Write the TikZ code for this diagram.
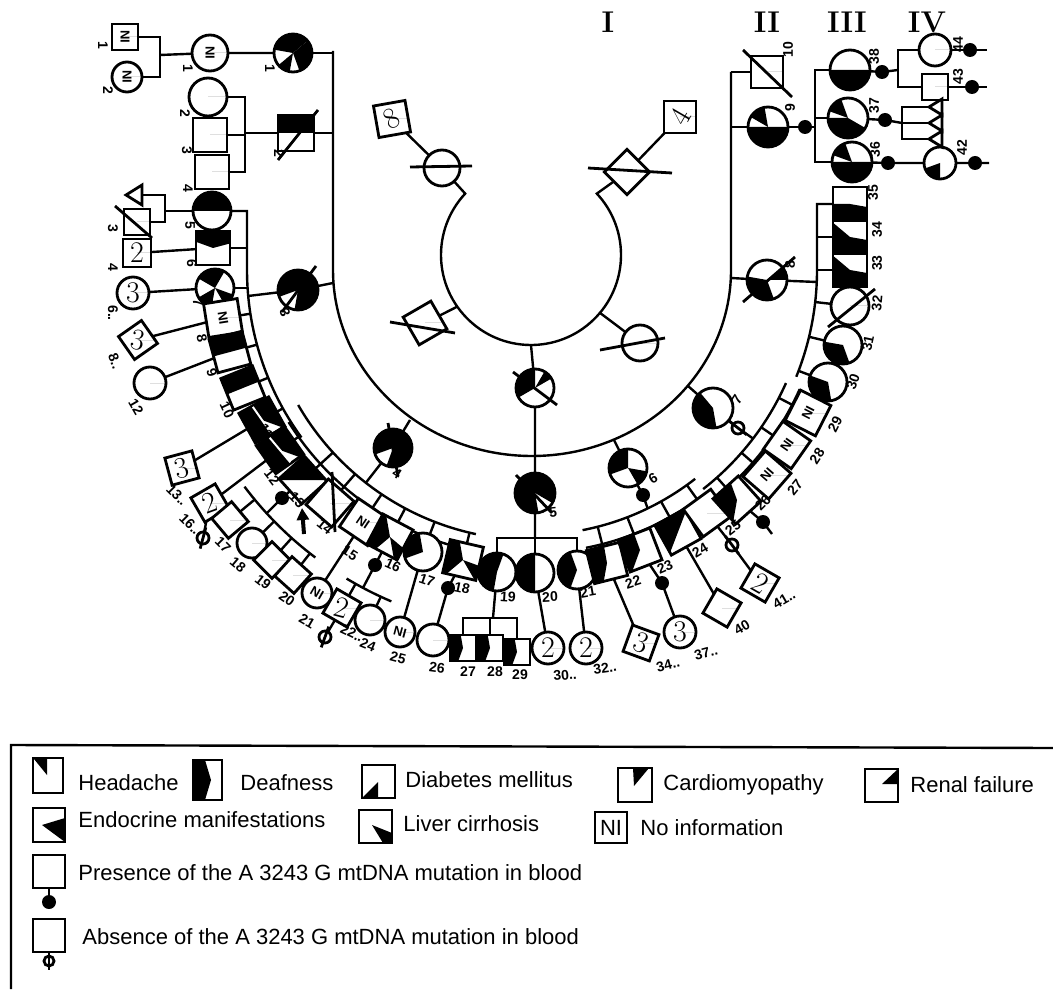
\documentclass[tikz,border=0pt]{standalone}
\usepackage{fontspec}
\setsansfont{Liberation Sans}
\usetikzlibrary{calc,arrows.meta}
\pgfdeclarelayer{bg}
\pgfsetlayers{bg,main}

\tikzset{
  sym/.style={line width=1.4pt},
  link/.style={line width=1.2pt},
  lab/.style={font=\sffamily\bfseries\fontsize{7}{7}\selectfont, inner sep=0pt},
  ni/.style={font=\sffamily\bfseries\fontsize{6.5}{6.5}\selectfont, inner sep=0pt},
  inum/.style={font=\fontsize{15}{15}\selectfont, inner sep=0pt},
  gen/.style={font=\bfseries\fontsize{15}{15}\selectfont, inner sep=0pt},
  leg/.style={font=\sffamily\fontsize{11}{11}\selectfont, anchor=west, inner sep=0pt},
}

% male: name, x, y, rotation, half side, black sectors (page angles)
\newcommand{\msq}[6]{%
  \begin{scope}[shift={(#2,#3)}, rotate=#4]
    \coordinate (#1) at (0,0);
    \fill[white] (-#5,-#5) rectangle (#5,#5);
    \begin{scope}
      \clip (-#5,-#5) rectangle (#5,#5);
      \foreach \a/\b in {#6} {\fill (0,0) -- ({\a-(#4)}:2*#5) arc[start angle={\a-(#4)}, end angle={\b-(#4)}, radius=2*#5] -- cycle;}
    \end{scope}
    \draw[sym] (-#5,-#5) rectangle (#5,#5);
  \end{scope}}
% female: name, x, y, rotation, radius, black sectors
\newcommand{\fci}[6]{%
  \begin{scope}[shift={(#2,#3)}, rotate=#4]
    \coordinate (#1) at (0,0);
    \fill[white] (0,0) circle (#5);
    \foreach \a/\b in {#6} {\fill (0,0) -- (\a:#5) arc[start angle=\a, end angle=\b, radius=#5] -- cycle;}
    \draw[sym] (0,0) circle (#5);
  \end{scope}}
% mutation present / absent
\newcommand{\mutdot}[3]{\coordinate (#1) at (#2,#3); \fill (#1) circle (7);}
\newcommand{\mutno}[4]{\coordinate (#1) at (#2,#3);
  \draw[sym,fill=white] (#1) circle (6);
  \draw[sym] ($(#1)+(#4:11)$) -- ($(#1)+(#4+180:11)$);}
% individual number
\newcommand{\plab}[5]{\node[lab, rotate=#4] (#1) at (#2,#3) {#5};}

\begin{document}
\begin{tikzpicture}[x=0.5pt,y=0.5pt,>=Stealth]
\useasboundingbox (0,0) rectangle (1053,-989);
\coordinate (C) at (532,-270);
\coordinate (Cr) at (531,-255);

% Generation labels
\node[gen] (gI) at (608,-22) {I};
\node[gen] (gII) at (767,-22) {II};
\node[gen] (gIII) at (847,-22) {III};
\node[gen] (gIV) at (927,-22) {IV};

% Generation I
\fci{Ia}{442}{-168}{0}{18}{0/0}
\msq{Ia8}{392}{-119}{10}{16}{0/0}
\node[inum, rotate=30] (nIa8) at (Ia8) {8};
\msq{Ib}{627}{-172}{45}{16}{0/0}
\msq{Ib4}{680}{-117}{0}{16}{0/0}
\node[inum, rotate=60] (nIb4) at (Ib4) {4};
\msq{Ic}{425}{-323}{30}{16}{0/0}
\fci{Id}{640}{-343}{0}{18}{0/0}
\fci{Ie}{535}{-388}{0}{19}{90/210,30/60}
\draw[sym] (410,-167) -- (472,-166);
\draw[sym] (588,-168) -- (672,-173);
\draw[sym] (390,-322) -- (455,-333);
\draw[sym] (600,-350) -- (665,-338);
\draw[sym] (513,-372) -- (557,-405);

% Generation II
\fci{II1}{293}{-53}{0}{19}{40/170,220/260,290/400}
\msq{II2}{296}{-133}{0}{18}{0/180}
\fci{II3}{298}{-290}{0}{20}{260/560}
\fci{II4}{393}{-448}{0}{19}{250/560}
\fci{II5}{535}{-493}{0}{20}{330/640}
\fci{II6}{628}{-468}{0}{19}{90/200,300/350}
\fci{II7}{713}{-408}{0}{20}{130/280}
\fci{II8}{767}{-280}{0}{20}{170/290,0/40}
\fci{II9}{768}{-127}{0}{20}{180/360,100/150}
\msq{II10}{767}{-72}{0}{16}{0/0}
\draw[sym] (278,-160) -- (318,-110);
\draw[sym] (282,-312) -- (316,-266);
\draw[sym] (388,-423) -- (398,-476);
\draw[sym] (516,-475) -- (552,-513);
\draw[sym] (743,-302) -- (795,-257);
\draw[sym] (743,-50) -- (792,-97);

% Generation III, left column
\fci{III1}{210}{-53}{0}{18}{0/0}
\fci{III2}{208}{-97}{0}{19}{0/0}
\msq{III3}{210}{-135}{0}{17}{0/0}
\msq{III4}{212}{-172}{0}{17}{0/0}
\fci{III5}{212}{-211}{0}{19}{0/180}
\msq{III6}{213}{-248}{0}{17}{15/160}
\fci{III7}{215}{-288}{0}{19}{60/150,210/260,300/340}
\msq{III8}{223}{-318}{9}{17}{0/0}
\msq{III9}{230}{-352}{15}{17}{15/195}
\msq{III10}{243}{-388}{22}{17}{22/202}
\msq{III11}{262}{-420}{29}{17}{-20/300}
\msq{III12}{280}{-450}{35}{17}{-20/310}
\draw[white, line width=1pt] ($(III11)+(125:16)$) -- ($(III11)+(305:16)$);
\draw[white, line width=1pt] ($(III12)+(130:16)$) -- ($(III12)+(310:16)$);

% Generation III, lower arc
\msq{III13}{303}{-480}{42}{17}{0/180}
\msq{III14}{330}{-503}{49}{17}{0/0}
\draw[sym] (332,-472) -- (335,-532);
\msq{III15}{363}{-522}{56}{17}{0/0}
\msq{III16}{390}{-537}{62}{17}{100/220,280/320}
\fci{III17}{423}{-552}{0}{19}{100/200}
\msq{III18}{463}{-560}{77}{17}{100/220,300/340}
\fci{III19}{497}{-572}{0}{19}{70/260}
\fci{III20}{535}{-573}{0}{19}{90/270}
\fci{III21}{577}{-570}{0}{19}{110/250}
\msq{III22}{607}{-563}{14}{17}{100/260}
\msq{III23}{640}{-550}{21}{17}{110/250}
\msq{III24}{678}{-532}{29}{17}{69/249}
\msq{III25}{707}{-513}{36}{17}{0/0}
\msq{III26}{737}{-500}{42}{17}{110/260}
\msq{III27}{767}{-475}{49}{17}{0/0}
\msq{III28}{787}{-445}{55}{17}{0/0}
\msq{III29}{808}{-413}{63}{17}{0/0}

% Generation III, right column
\fci{III30}{828}{-382}{0}{19}{160/280}
\fci{III31}{843}{-345}{0}{19}{170/290}
\fci{III32}{850}{-306}{0}{19}{0/0}
\draw[sym] (828,-327) -- (875,-289);
\msq{III33}{850}{-270}{0}{17}{140/350}
\msq{III34}{850}{-237}{0}{17}{140/350}
\msq{III35}{850}{-204}{0}{17}{180/350}
\fci{III36}{852}{-162}{0}{20}{180/360,110/160}
\fci{III37}{848}{-118}{0}{20}{110/160,180/330}
\fci{III38}{850}{-70}{0}{20}{180/360}

% Generation IV
\fci{IV44}{935}{-50}{0}{16}{0/0}
\msq{IV43}{935}{-87}{0}{13}{0/0}
\fci{IV42}{940}{-163}{0}{16}{200/270}
\coordinate (t1) at (929,-107);
\coordinate (t2) at (929,-123);
\coordinate (t3) at (929,-139);
\foreach \t in {t1,t2,t3}
  \draw[sym,fill=white] (\t) -- ++(13,8) -- ++(0,-16) -- cycle;
\msq{IV1}{125}{-37}{0}{13}{0/0}
\fci{IV2}{127}{-77}{0}{15}{0/0}
\coordinate (IVt) at (140,-195);
\draw[sym,fill=white] (126,-195) -- (142,-185) -- (142,-205) -- cycle;
\msq{IV3}{137}{-222}{0}{13}{0/0}
\draw[sym] (115,-206) -- (152,-238);
\msq{IV4}{137}{-253}{0}{14}{0/0}
\fci{IV6}{133}{-293}{0}{16}{0/0}
\msq{IV8}{138}{-340}{35}{14}{0/0}
\fci{IV12}{150}{-383}{0}{16}{0/0}
\msq{IV13}{182}{-468}{15}{14}{0/0}
\msq{IV16}{210}{-503}{30}{14}{0/0}
\msq{IV17}{230}{-520}{40}{13}{0/0}
\fci{IV18}{252}{-543}{0}{15}{0/0}
\msq{IV19}{272}{-560}{45}{13}{0/0}
\msq{IV20}{293}{-575}{48}{13}{0/0}
\fci{IV21}{317}{-593}{0}{15}{0/0}
\msq{IV22}{342}{-608}{60}{14}{0/0}
\fci{IV24}{370}{-620}{0}{15}{0/0}
\fci{IV25}{400}{-632}{0}{15}{0/0}
\fci{IV26}{433}{-640}{0}{16}{0/0}
\msq{IV27}{463}{-648}{0}{13}{100/250}
\msq{IV28}{490}{-648}{0}{13}{100/250}
\msq{IV29}{517}{-652}{0}{13}{100/250}
\fci{IV30}{548}{-648}{0}{16}{0/0}
\fci{IV32}{586}{-648}{0}{16}{0/0}
\msq{IV34}{641}{-643}{-20}{14}{0/0}
\fci{IV37}{680}{-632}{0}{16}{0/0}
\msq{IV40}{722}{-608}{-30}{14}{0/0}
\msq{IV41}{760}{-583}{-30}{14}{0/0}

% texts inside symbols
\node[ni, rotate=-90] (nIII1) at (III1) {NI};
\node[ni, rotate=-90] (nIV1) at (IV1) {NI};
\node[ni, rotate=-90] (nIV2) at (IV2) {NI};
\node[ni, rotate=-81] (nIII8) at (III8) {NI};
\node[ni, rotate=-34] (nIII15) at (III15) {NI};
\node[ni, rotate=49] (nIII27) at (III27) {NI};
\node[ni, rotate=55] (nIII28) at (III28) {NI};
\node[ni, rotate=63] (nIII29) at (III29) {NI};
\node[ni, rotate=-30] (nIV21) at (IV21) {NI};
\node[ni, rotate=-15] (nIV25) at (IV25) {NI};
\node[inum] (nIV4) at (IV4) {2};
\node[inum] (nIV6) at (IV6) {3};
\node[inum, rotate=-10] (nIV8) at (IV8) {3};
\node[inum, rotate=15] (nIV13) at (IV13) {3};
\node[inum, rotate=20] (nIV16) at (IV16) {2};
\node[inum, rotate=-15] (nIV22) at (IV22) {2};
\node[inum] (nIV30) at (IV30) {2};
\node[inum] (nIV32) at (IV32) {2};
\node[inum, rotate=-20] (nIV34) at (IV34) {3};
\node[inum] (nIV37) at (IV37) {3};
\node[inum, rotate=-30] (nIV41) at (IV41) {2};

% mutation status
\mutdot{dII6}{643}{-495}
\mutno{aII7}{738}{-428}{-38}
\mutdot{dII9}{805}{-127}
\mutdot{dIII13}{282}{-498}
\mutdot{dIII16}{375}{-565}
\mutdot{dIII18}{448}{-588}
\mutdot{dIII23}{662}{-583}
\mutno{aIII25}{732}{-545}{-53}
\mutdot{dIII26}{763}{-522}
\coordinate (eIII26) at (772,-534);
\mutdot{dIII38}{882}{-72}
\mutdot{dIII37}{885}{-120}
\mutdot{dIII36}{888}{-163}
\mutdot{dIV44}{970}{-50}
\mutdot{dIV43}{972}{-87}
\mutdot{dIV42}{975}{-163}
\mutno{aIV16}{203}{-538}{-105}
\mutno{aIV22}{325}{-637}{-110}

% proband
\coordinate (arrA) at (304,-534);
\coordinate (arrB) at (302,-508);
\draw[line width=2pt, -{Triangle[length=6pt,width=6pt]}] (arrA) -- (arrB);

% individual numbers
\plab{lIV1}{103}{-45}{-90}{1}
\plab{lIV2}{108}{-90}{-90}{2}
\plab{lIII1}{188}{-68}{-90}{1}
\plab{lII1}{270}{-68}{-90}{1}
\plab{lIII2}{185}{-113}{-90}{2}
\plab{lIII3}{187}{-150}{-90}{3}
\plab{lIII4}{188}{-188}{-90}{4}
\plab{lII2}{279}{-153}{-90}{2}
\plab{lIII5}{190}{-225}{-90}{5}
\plab{lIII6}{192}{-263}{-90}{6}
\plab{lIII7}{198}{-302}{-80}{7}
\plab{lII3}{285}{-313}{-70}{3}
\plab{lIV3}{113}{-228}{-90}{3}
\plab{lIV4}{113}{-267}{-90}{4}
\plab{lIV6}{113}{-313}{-90}{6..}
\plab{lIV8}{115}{-361}{-70}{8..}
\plab{lIV12}{136}{-407}{-60}{12}
\plab{lIII8}{202}{-338}{-78}{8}
\plab{lIII9}{212}{-373}{-72}{9}
\plab{lIII10}{227}{-410}{-65}{10}
\plab{lIII11}{266}{-431}{-59}{11}
\plab{lIII12}{272}{-477}{-52}{12}
\plab{lIV13}{177}{-495}{-45}{13..}
\plab{lIII13}{297}{-500}{-46}{13}
\plab{lIV16}{190}{-524}{-45}{16..}
\plab{lIV17}{223}{-545}{-45}{17}
\plab{lIV18}{238}{-565}{-40}{18}
\plab{lIV19}{263}{-582}{-38}{19}
\plab{lIV20}{287}{-599}{-35}{20}
\plab{lIII14}{325}{-527}{-39}{14}
\plab{lIV21}{307}{-621}{-30}{21}
\plab{lIV22}{352}{-633}{-25}{22..}
\plab{lIV24}{368}{-645}{-22}{24}
\plab{lIV25}{398}{-658}{-15}{25}
\plab{lIII15}{350}{-553}{-32}{15}
\plab{lIII16}{393}{-565}{-25}{16}
\plab{lII4}{397}{-474}{-33}{4}
\plab{lIII17}{427}{-580}{-19}{17}
\plab{lIII18}{462}{-588}{-12}{18}
\plab{lIV26}{437}{-668}{-8}{26}
\plab{lIV27}{468}{-672}{0}{27}
\plab{lIV28}{495}{-672}{0}{28}
\plab{lIV29}{520}{-675}{0}{29}
\plab{lIII19}{508}{-597}{-4}{19}
\plab{lIII20}{550}{-597}{3}{20}
\plab{lIII21}{588}{-592}{10}{21}
\plab{lII5}{553}{-512}{5}{5}
\plab{lIV30}{565}{-675}{5}{30..}
\plab{lIV32}{605}{-668}{8}{32..}
\plab{lII6}{653}{-478}{30}{6}
\plab{lIII22}{633}{-582}{18}{22}
\plab{lIII23}{665}{-567}{24}{23}
\plab{lIII24}{700}{-550}{31}{24}
\plab{lIII25}{733}{-528}{38}{25}
\plab{lIV34}{668}{-665}{15}{34..}
\plab{lIV37}{706}{-653}{15}{37..}
\plab{lIV40}{742}{-627}{30}{40}
\plab{lIV41}{784}{-599}{30}{41..}
\plab{lII7}{737}{-400}{57}{7}
\plab{lIII26}{763}{-503}{45}{26}
\plab{lIII27}{795}{-487}{51}{27}
\plab{lIII28}{817}{-456}{57}{28}
\plab{lIII29}{835}{-424}{63}{29}
\plab{lIII30}{853}{-382}{71}{30}
\plab{lIII31}{868}{-343}{78}{31}
\plab{lIII32}{877}{-303}{85}{32}
\plab{lIII33}{877}{-263}{90}{33}
\plab{lIII34}{877}{-230}{90}{34}
\plab{lIII35}{873}{-193}{90}{35}
\plab{lII8}{790}{-265}{90}{8}
\plab{lII9}{790}{-108}{90}{9}
\plab{lII10}{788}{-50}{90}{10}
\plab{lIII36}{875}{-150}{90}{36}
\plab{lIII37}{874}{-106}{90}{37}
\plab{lIII38}{874}{-57}{90}{38}
\plab{lIV44}{958}{-45}{90}{44}
\plab{lIV43}{958}{-77}{90}{43}
\plab{lIV42}{962}{-148}{90}{42}

% connecting lines
\begin{pgfonlayer}{bg}
\fill[white] (0,0) rectangle (1053,-989);
% generation I sibship
\draw[link] (Ia) -- ($(Cr)+(137:90)$) arc[start angle=137, end angle=403, radius=90] -- (Ib);
\draw[link] (Ia) -- (Ia8);
\draw[link] (Ib) -- (Ib4);
\draw[link] (Ic) -- ($(Cr)+(215:90)$);
\draw[link] (Id) -- ($(Cr)+(320:90)$);
\coordinate (sII5) at (535,-538);
\draw[link] ($(Cr)+(270:90)$) -- (Ie) -- (II5) -- (sII5);
% generation II sibship
\draw[link] (333,-51) -- (333,-270) arc[start angle=180, end angle=360, x radius=199, y radius=186] -- (731,-72);
\draw[link] (II1) -- (333,-53);
\draw[link] (II2) -- (333,-133);
\draw[link] (II3) -- (333,-283);
\draw[link] (II4) -- (410,-420);
\draw[link] (II6) -- (614,-440);
\draw[link] (II7) -- (688,-386);
\draw[link] (II8) -- (731,-278);
\draw[link] (II9) -- (731,-127);
\draw[link] (II10) -- (731,-72);
% children of II-1
\draw[link] (II1) -- (III1) -- (160,-55);
\draw[link] (IV1) -- (160,-37) -- (160,-77) -- (IV2);
% children of II-2
\draw[link] (II2) -- (245,-133);
\draw[link] (III2) -- (245,-97) -- (245,-172) -- (III4);
\draw[link] (III3) -- (245,-135);
% children of II-3
\draw[link] (II3) -- (248,-296);
\draw[link] (III5) -- (247,-211) -- (247,-270) arc[start angle=180, end angle=216, radius=285];
\draw[link] (III6) -- (247,-248);
\draw[link] (III7) -- (247,-288);
\foreach \k in {III8,III9,III10,III11,III12}
  \draw[link] (\k) -- ($(C)!142.5pt!(\k)$);
% children of II-4
\draw[link] (II4) -- ($(C)!135pt!(II4)$);
\draw[link] ($(C)+(210:270)$) arc[start angle=210, end angle=258, radius=270];
\draw[link] ($(C)+(212:287)$) arc[start angle=212, end angle=258, radius=287];
\foreach \k in {III13,III14,III15,III16,III17,III18}
  \draw[link] (\k) -- ($(C)!135pt!(\k)$);
% children of II-5
\draw[link] (III19) -- (497,-538) -- (577,-538) -- (III21);
\draw[link] (sII5) -- (III20);
% children of II-6
\draw[link] (II6) -- (dII6) -- ($(C)!132.5pt!(II6)$);
\draw[link] ($(C)+(281:265)$) arc[start angle=281, end angle=308, radius=265];
\draw[link] ($(C)+(281:283)$) arc[start angle=281, end angle=308, radius=283];
\foreach \k in {III22,III23,III24,III25}
  \draw[link] (\k) -- ($(C)!132.5pt!(\k)$);
% children of II-7
\draw[link] (II7) -- (aII7) -- ($(C)!139pt!(II7)$);
\draw[link] ($(C)+(308:278)$) arc[start angle=308, end angle=336, radius=278];
\draw[link] ($(C)+(308:293)$) arc[start angle=308, end angle=336, radius=293];
\foreach \k in {III26,III27,III28,III29}
  \draw[link] (\k) -- ($(C)!139pt!(\k)$);
% children of II-8
\draw[link] (II8) -- (817,-282);
\draw[link] (III35) -- (817,-204) -- (817,-270) arc[start angle=0, end angle=-22, radius=285];
\draw[link] (III34) -- (817,-237);
\draw[link] (III33) -- (817,-270);
\foreach \k in {III30,III31,III32}
  \draw[link] (\k) -- ($(C)!142.5pt!(\k)$);
% children of II-9
\draw[link] (II9) -- (dII9) -- (815,-127);
\draw[link] (III38) -- (815,-70) -- (815,-162) -- (III36);
\draw[link] (III37) -- (815,-118);
% generation IV, right
\draw[link] (III38) -- (dIII38) -- (898,-70);
\draw[link] (IV44) -- (898,-50) -- (898,-87) -- (IV43);
\draw[link] (IV44) -- (dIV44) -- (987,-50);
\draw[link] (IV43) -- (dIV43) -- (987,-87);
\draw[link] (III37) -- (dIII37) -- (902,-123);
\draw[link] (t1) -- (902,-107) -- (902,-139) -- (t3);
\draw[link] (t2) -- (902,-123);
\draw[link] (III36) -- (dIII36) -- (IV42) -- (dIV42) -- (989,-163);
% generation IV, left and bottom
\draw[link] (III5) -- (165,-211);
\draw[link] (IVt) -- (165,-195) -- (165,-222) -- (IV3);
\draw[link] (III6) -- (IV4);
\draw[link] (III7) -- (IV6);
\draw[link] (III8) -- (IV8);
\draw[link] (III9) -- (IV12);
\draw[link] (III11) -- (IV13);
\draw[link] (III12) -- (IV16) -- (aIV16);
\draw[link] (III13) -- (dIII13) -- ($(C)!180pt!(III13)$);
\draw[link] ($(C)+(217:360)$) arc[start angle=217, end angle=233, radius=360];
\foreach \k in {IV17,IV18,IV19,IV20}
  \draw[link] (\k) -- ($(C)!180pt!(\k)$);
\draw[link] (III15) -- (IV21);
\draw[link] (III16) -- (dIII16) -- ($(C)!180pt!(III16)$);
\draw[link] ($(C)+(239:360)$) arc[start angle=239, end angle=247, radius=360];
\draw[link] ($(C)!180pt!(IV22)$) -- (IV22) -- (aIV22);
\draw[link] ($(C)!180pt!(IV24)$) -- (IV24);
\draw[link] (III17) -- (IV25);
\draw[link] (III18) -- (dIII18) -- (IV26);
\draw[link] (III19) -- (493,-618);
\draw[link] (IV27) -- (463,-618) -- (517,-618) -- (IV29);
\draw[link] (IV28) -- (490,-618);
\draw[link] (III20) -- (IV30);
\draw[link] (III21) -- (IV32);
\draw[link] (III22) -- (IV34);
\draw[link] (III23) -- (dIII23) -- (IV37);
\draw[link] (III24) -- (IV40);
\draw[link] (III25) -- (aIII25) -- (IV41);
\draw[link] (III26) -- (dIII26) -- (eIII26);
\end{pgfonlayer}

% Legend
\draw[link] (11,-989) -- (11,-745) -- (1053,-748);
\fill (34,-759) -- (47,-759) -- (47,-775) -- cycle;
\draw[sym] (33,-758) rectangle (63,-793);
\node[leg] (tHead) at (78,-783) {Headache};
\fill (193,-760) -- (205,-760) -- (211,-780) -- (205,-800) -- (193,-800) -- cycle;
\draw[sym] (193,-760) rectangle (222,-800);
\node[leg] (tDeaf) at (240,-783) {Deafness};
\fill (362,-798) -- (378,-782) -- (378,-798) -- cycle;
\draw[sym] (362,-765) rectangle (395,-798);
\node[leg] (tDiab) at (405,-780) {Diabetes mellitus};
\fill (633,-768) -- (649,-768) -- (634,-786) -- cycle;
\draw[sym] (618,-768) rectangle (652,-802);
\node[leg] (tCard) at (663,-785) {Cardiomyopathy};
\fill (882,-784) -- (898,-769) -- (898,-784) -- cycle;
\draw[sym] (865,-769) rectangle (898,-802);
\node[leg] (tRen) at (910,-785) {Renal failure};
\fill (42,-825) -- (65,-818) -- (65,-842) -- cycle;
\draw[sym] (33,-808) rectangle (65,-842);
\node[leg] (tEnd) at (78,-820) {Endocrine manifestations};
\fill (372,-825) -- (392,-833) -- (392,-843) -- (383,-843) -- cycle;
\draw[sym] (359,-810) rectangle (392,-843);
\node[leg] (tLiv) at (403,-824) {Liver cirrhosis};
\draw[sym] (595,-812) rectangle (627,-843);
\node[leg, anchor=center] (tNIb) at (611,-828) {NI};
\node[leg] (tNI) at (640,-828) {No information};
\draw[sym] (33,-855) rectangle (65,-888);
\coordinate (pS) at (49,-888);
\mutdot{pD}{49}{-902}
\draw[link] (pS) -- (pD);
\node[leg] (tPres) at (78,-873) {Presence of the A 3243 G mtDNA mutation in blood};
\draw[sym] (33,-919) rectangle (65,-952);
\coordinate (aS) at (49,-952);
\coordinate (aE) at (49,-970);
\draw[link] (aS) -- (aE);
\draw[sym,fill=white] (49,-961) circle (5);
\draw[sym] (49,-954) -- (49,-968);
\node[leg] (tAbs) at (82,-937) {Absence of the A 3243 G mtDNA mutation in blood};
\end{tikzpicture}
\end{document}
